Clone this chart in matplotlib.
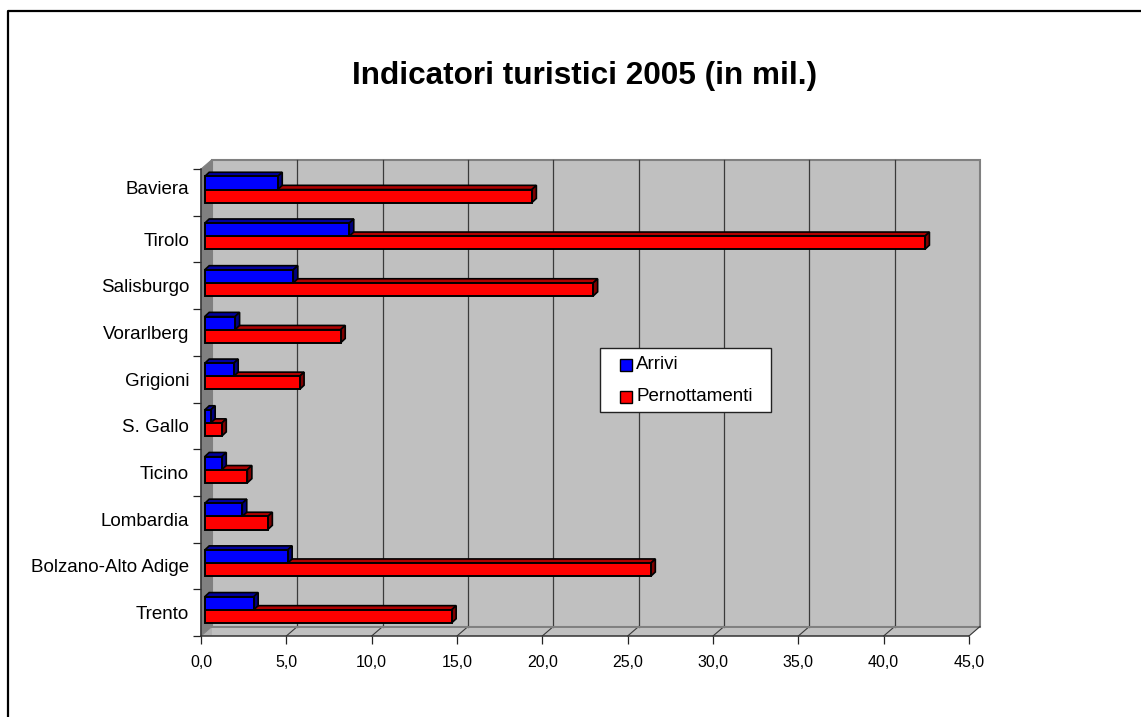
import matplotlib
matplotlib.use("Agg")
import matplotlib.pyplot as plt
from matplotlib.patches import Polygon, Rectangle
from matplotlib.lines import Line2D

categories = ["Baviera", "Tirolo", "Salisburgo", "Vorarlberg", "Grigioni",
              "S. Gallo", "Ticino", "Lombardia", "Bolzano-Alto Adige", "Trento"]
arrivi = [4.28, 8.47, 5.19, 1.78, 1.70, 0.35, 1.00, 2.20, 4.86, 2.87]
pernottamenti = [19.17, 42.20, 22.76, 7.97, 5.56, 1.00, 2.50, 3.70, 26.14, 14.47]
xticks = [0, 5, 10, 15, 20, 25, 30, 35, 40, 45]
series_names = ["Arrivi", "Pernottamenti"]
title = "Indicatori turistici 2005 (in mil.)"

W, H = 1141, 717
plt.rcParams["font.family"] = ["Liberation Sans", "DejaVu Sans"]
fig = plt.figure(figsize=(W / 100, H / 100), dpi=100, facecolor="white")

# front plane of the pseudo-3D box, in pixels
L, R, T, B = 201, 969, 169, 636
ax = fig.add_axes([L / W, 1 - B / H, (R - L) / W, (B - T) / H])
ax.set_xlim(0, 45)
ax.set_ylim(10, 0)
ax.patch.set_visible(False)
for s in ax.spines.values():
    s.set_visible(False)

ux = (R - L) / 45      # px per x unit
uy = (B - T) / 10      # px per category
wx, wy = 11 / ux, 9.5 / uy     # wall depth in data units
bx, by = 4.5 / ux, 4.2 / uy    # bar depth in data units
x0 = 3.7 / ux                  # bar start offset
n = len(categories)

def poly(pts, fc, ec="none", lw=0, z=1, **kw):
    p = Polygon(pts, closed=True, facecolor=fc, edgecolor=ec, linewidth=lw,
                zorder=z, clip_on=False, joinstyle="miter", **kw)
    ax.add_patch(p)

# walls
poly([(wx, -wy), (45 + wx, -wy), (45 + wx, n - wy), (wx, n - wy)], "#C0C0C0", "#808080", 1.5, 1)
poly([(0, 0), (wx, -wy), (wx, n - wy), (0, n)], "#808080", "#808080", 0.7, 1.2)
poly([(0, n), (wx, n - wy), (45 + wx, n - wy), (45, n)], "#C0C0C0", "none", 0, 1.1)
poly([(0, n), (wx, n - wy), (wx + 0, n), (0, n)], "#B0B0B0", "none", 0, 1.15)

# gridlines and floor lines
for t in xticks[1:-1]:
    ax.add_line(Line2D([t + wx, t + wx], [-wy, n - wy], color="#3A3A3A", lw=0.9, zorder=1.5, clip_on=False))
    ax.add_line(Line2D([t, t + wx], [n, n - wy], color="#3A3A3A", lw=0.8, zorder=1.5, clip_on=False))
ax.add_line(Line2D([wx, 45 + wx], [n - wy, n - wy], color="#808080", lw=1.4, zorder=1.5, clip_on=False))

# axes lines
ax.add_line(Line2D([0, 45], [n, n], color="#333333", lw=1.1, zorder=1.6, clip_on=False))
ax.add_line(Line2D([0, 0], [0, n], color="#333333", lw=1.1, zorder=1.6, clip_on=False))
ax.add_line(Line2D([45, 45 + wx], [n, n - wy], color="#333333", lw=0.8, zorder=1.6, clip_on=False))

def bar3d(i, value, top, height, front, topc, sidec, z):
    y0, y1 = i + top, i + top + height
    ax.barh(y1 - height / 2, value, height=height, left=x0, color=front,
            edgecolor="black", linewidth=1.4, zorder=z + 0.2, clip_on=False)
    x1 = x0 + value
    poly([(x0, y0), (x0 + bx, y0 - by), (x1 + bx, y0 - by), (x1, y0)], topc, "black", 1.2, z)
    poly([(x1, y0), (x1 + bx, y0 - by), (x1 + bx, y1 - by), (x1, y1)], sidec, "black", 1.2, z + 0.1)

bar_top, bar_h = 0.16, 0.28
for i in range(n):
    bar3d(i, pernottamenti[i], bar_top + bar_h, bar_h, "#FF0000", "#B00000", "#800000", 2 + i * 0.01)
    bar3d(i, arrivi[i], bar_top, bar_h, "#0000FF", "#0000A0", "#000080", 3 + i * 0.01)

# ticks
ax.xaxis.tick_bottom()
ax.set_xticks(xticks)
ax.set_xticklabels([f"{t:.1f}".replace(".", ",") for t in xticks], fontsize=11.5, color="black")
ax.tick_params(axis="x", length=6, width=0.9, color="#222222", pad=8)
label_y = [i + 0.5 for i in range(n)]
label_y[0] -= 5 / uy    # the first label sits a little higher in the reference
ax.set_yticks(label_y)
ax.set_yticklabels(categories, fontsize=13.5, color="black")
ax.tick_params(axis="y", which="major", length=0, pad=8.5)
ax.set_yticks(range(n + 1), minor=True)
ax.tick_params(axis="y", which="minor", length=6, width=0.9, color="#222222")

# title and figure frame
fig.text(585 / W, 1 - 76 / H, title, ha="center", va="center", fontsize=22.7, fontweight="bold", color="black")
fig.add_artist(Line2D([7.5 / W, 7.5 / W, 1], [0, 1 - 11 / H, 1 - 11 / H], color="black", lw=1.6))

# legend
fig.patches.append(Rectangle((599.5 / W, 1 - 412 / H), 171 / W, 64 / H, transform=fig.transFigure,
                             facecolor="white", edgecolor="#222222", linewidth=1.0, zorder=10))
for name, col, yc in zip(series_names, ["#0000FF", "#FF0000"], [364.5, 396.5]):
    fig.patches.append(Rectangle((619.5 / W, 1 - (yc + 6) / H), 12 / W, 12 / H, transform=fig.transFigure,
                                 facecolor=col, edgecolor="black", linewidth=1.0, zorder=11))
    fig.text(636 / W, 1 - yc / H, name, ha="left", va="center", fontsize=13.5, color="black", zorder=11)

fig.savefig("out.png", dpi=100, facecolor="white")
